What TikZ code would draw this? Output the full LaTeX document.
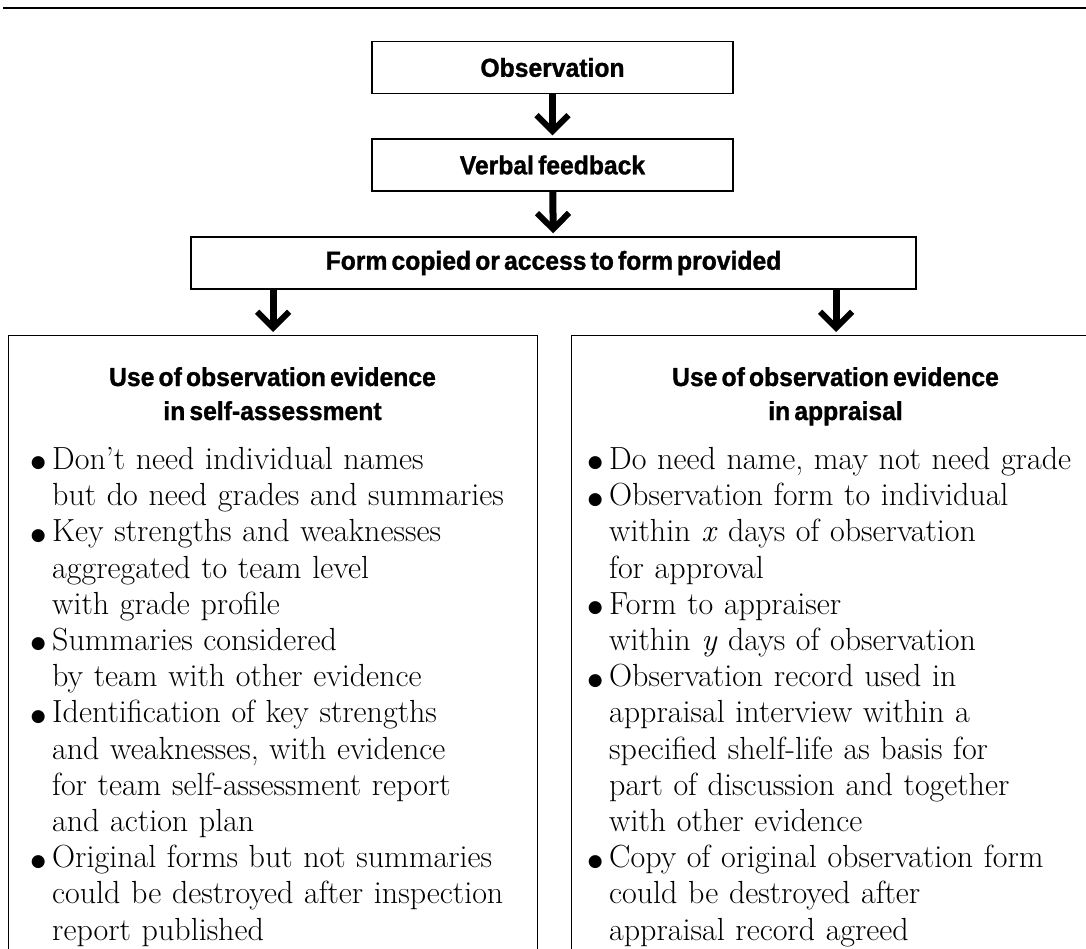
\documentclass[tikz,border=0pt]{standalone}
\usepackage{fontspec}
\newfontfamily\headfont[WordSpace=0.6, FakeStretch=0.95, BoldFeatures={FakeBold=1.2}]{Liberation Sans}
\newfontfamily\symfont{DejaVu Sans}
\usetikzlibrary{arrows.meta}
\newcommand\blt{\makebox[18pt][l]{\hspace{4pt}\makebox[0pt][c]{\smash{\raisebox{1.5pt}{\symfont\fontsize{17}{17}\selectfont ●}}}}}
\newcommand\itm{\par\noindent\hangindent=18pt\hangafter=1\relax\blt}
\begin{document}
\begin{tikzpicture}[x=1pt,y=-1pt,
  box/.style={draw, line width=1.4pt, inner sep=0pt, minimum height=52pt,
    font=\headfont\bfseries\fontsize{26}{30}\selectfont},
  panel/.style={draw, line width=1.4pt, inner sep=0pt, anchor=north west,
    minimum width=529pt, minimum height=640pt},
  head/.style={anchor=base, inner sep=0pt, font=\headfont\bfseries\fontsize{26}{30}\selectfont},
  body/.style={anchor=north west, inner sep=0pt, align=left, text width=520pt,
    font=\fontsize{32}{36.2}\selectfont},
  flow/.style={line width=7pt, shorten >=3pt,
    -{Straight Barb[length=16pt,width=32pt,line width=6pt]}},
  rule/.style={line width=2pt}]
\useasboundingbox (0,0) rectangle (1086,949);
\coordinate (r1) at (3,8);
\coordinate (r2) at (1086,8);
\draw[rule] (r1) -- (r2);

\node[box, minimum width=361pt] (obs) at (552.5,67.5) {Observation};
\node[box, minimum width=361pt] (verb) at (552.5,165) {Verbal feedback};
\node[box, minimum width=725pt] (form) at (553.5,263) {Form copied or access to form provided};

\node[panel] (left) at (8,335) {};
\node[panel] (right) at (571,335) {};

\draw[flow] (obs) -- (verb);
\draw[flow] (verb) -- (form);
\draw[flow] (form.south -| left.north) -- (left.north);
\draw[flow] (form.south -| right.north) -- (right.north);

\node[head] (lh1) at (272.5,386) {Use of observation evidence};
\node[head] (lh2) at (272.5,420) {in self-assessment};
\node[head] (rh1) at (835.5,386) {Use of observation evidence};
\node[head] (rh2) at (835.5,420) {in appraisal};

\node[body] (lb) at (34,433) {\parskip=0pt
\itm\rule{0pt}{25pt}Don’t need individual names\newline but do need grades and summaries
\itm Key strengths and weaknesses\newline aggregated to team level\newline with grade profile
\itm Summaries considered\newline by team with other evidence
\itm Identification of key strengths\newline and weaknesses, with evidence\newline for team self-assessment report\newline and action plan
\itm Original forms but not summaries\newline could be destroyed after inspection\newline report published\par};

\node[body] (rb) at (591,433) {\parskip=0pt
\itm\rule{0pt}{25pt}Do need name, may not need grade
\itm Observation form to individual\newline within \textit{x} days of observation\newline for approval
\itm Form to appraiser\newline within \textit{y} days of observation
\itm Observation record used in\newline appraisal interview within a\newline specified shelf-life as basis for\newline part of discussion and together\newline with other evidence
\itm Copy of original observation form\newline could be destroyed after\newline appraisal record agreed\par};
\end{tikzpicture}
\end{document}
